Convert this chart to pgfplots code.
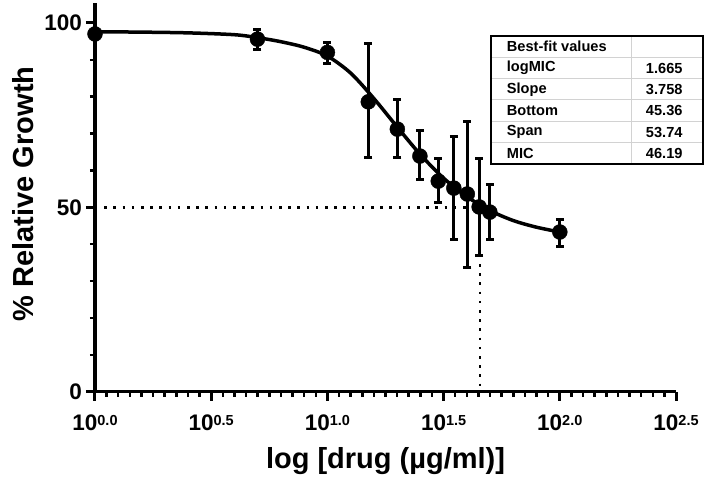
\documentclass[border=0pt]{standalone}
\usepackage{pgfplots}
\pgfplotsset{compat=1.18}
\usepackage{fontspec}
\setmainfont{Liberation Sans}
\newcommand{\tl}[1]{10\raisebox{5.5pt}{\fontsize{14.5}{15}\selectfont #1}}
\begin{document}
\begin{tikzpicture}
\begin{axis}[
  at={(0pt,0pt)}, anchor=south west,
  scale only axis, width=581pt, height=388.7pt,
  xmin=0, xmax=2.5, ymin=0, ymax=105.4,
  axis x line*=bottom, axis y line*=left,
  axis line style={line width=3.5pt, -},
  xtick={0,0.5,1,1.5,2,2.5},
  xticklabels={\tl{0.0},\tl{0.5},\tl{1.0},\tl{1.5},\tl{2.0},\tl{2.5}},
  minor x tick num=9,
  ytick={0,50,100}, minor y tick num=4,
  tick align=outside,
  major tick length=9pt, minor tick length=5pt,
  major tick style={line width=3pt, black},
  minor tick style={line width=2.5pt, black},
  ticklabel style={font=\bfseries\fontsize{22.5}{23}\selectfont},
  /pgf/number format/assume math mode=true,
  yticklabel style={inner sep=0pt, xshift=-4pt},
  xticklabel style={inner sep=0pt, yshift=-14pt},
  xlabel={log [drug (µg/ml)]},
  ylabel={\% Relative Growth},
  label style={font=\bfseries\fontsize{29}{30}\selectfont},
  xlabel style={yshift=-13pt},
  ylabel style={yshift=7pt, xshift=3.5pt},
  clip=false,
]
\addplot[black, line width=2.5pt, dash pattern=on 2.5pt off 6.7pt] coordinates {(0,50) (1.656,50) (1.656,0)};
\addplot[black, line width=3.5pt, smooth, tension=0.5] coordinates {
(0,97.6) (0.2,97.5) (0.4,97.3) (0.6,96.8) (0.7,96.0) (0.8,94.9) (0.9,93.4) (1.0,91.0) (1.1,86.4) (1.2,79.5) (1.3,71.8) (1.4,64.3) (1.5,57.9) (1.6,52.9) (1.7,49.1) (1.8,46.4) (1.9,44.6) (2.0,43.3)};
\addplot[black, only marks, mark=*, mark size=7.5pt,
  error bars/.cd, y dir=both, y explicit,
  error bar style={line width=3pt, black},
  error mark options={rotate=90, mark size=4pt, line width=3pt, black}]
  table[x=x, y=y, y error plus=ep, y error minus=em] {
x y ep em
0 97.0 0 0
0.699 95.6 2.7 2.7
1.0 92.0 2.8 3.1
1.176 78.6 15.7 15.2
1.301 71.2 7.9 7.8
1.398 63.9 6.8 6.3
1.477 57.1 6.0 5.7
1.544 55.2 13.9 13.8
1.602 53.6 19.8 19.8
1.653 50.1 13.0 13.2
1.699 48.7 7.6 7.3
2.0 43.3 3.5 3.8
};
\end{axis}
% table
\begin{scope}[font=\bfseries\fontsize{14.6}{15}\selectfont]
\foreach \yy in {334.37,313.03,291.7,270.37,249.03} {
  \draw[gray!35, line width=1pt] (396pt,\yy pt) -- (608pt,\yy pt);
}
\draw[gray!35, line width=1pt] (536pt,227.7pt) -- (536pt,355.7pt);
\draw[black, line width=2pt] (396pt,227.7pt) rectangle (608pt,355.7pt);
\node[anchor=west, inner sep=0pt] at (411.7pt,345.0pt) {Best-fit values};
\node[anchor=west, inner sep=0pt] at (411.7pt,323.7pt) {logMIC};
\node[anchor=west, inner sep=0pt] at (411.7pt,302.4pt) {Slope};
\node[anchor=west, inner sep=0pt] at (411.7pt,281.0pt) {Bottom};
\node[anchor=west, inner sep=0pt] at (411.7pt,259.7pt) {Span};
\node[anchor=west, inner sep=0pt] at (411.7pt,238.4pt) {MIC};
\node[anchor=east, inner sep=0pt] at (587.7pt,323.7pt) {1.665};
\node[anchor=east, inner sep=0pt] at (587.7pt,302.4pt) {3.758};
\node[anchor=east, inner sep=0pt] at (587.7pt,281.0pt) {45.36};
\node[anchor=east, inner sep=0pt] at (587.7pt,259.7pt) {53.74};
\node[anchor=east, inner sep=0pt] at (587.7pt,238.4pt) {46.19};
\end{scope}
\pgfresetboundingbox
\path (-95pt,-89.3pt) rectangle (613pt,391.7pt);
\end{tikzpicture}
\end{document}
